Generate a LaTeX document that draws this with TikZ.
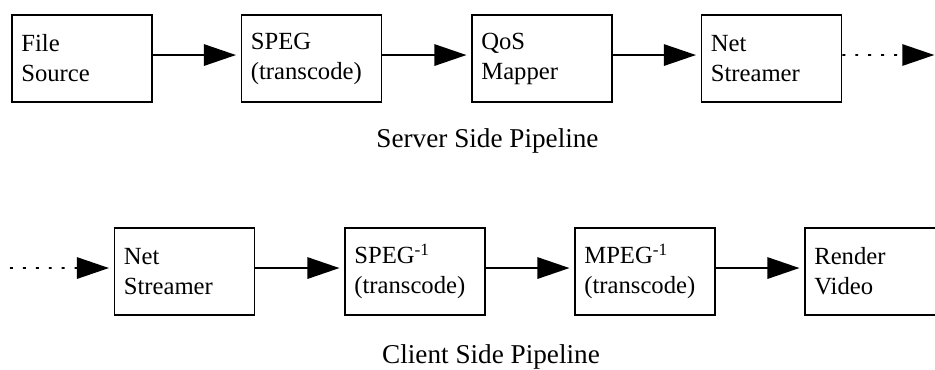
\documentclass[tikz,border=0pt]{standalone}
\usepackage{fontspec}
\setmainfont{Liberation Serif}
\usetikzlibrary{arrows.meta}

\tikzset{
  stage/.style={draw, line width=1.3pt, minimum width=105pt, minimum height=65.25pt,
    text width=91pt, align=left, inner sep=6pt, font=\fontsize{18.5}{22.5}\selectfont},
  flow/.style={line width=1.4pt, -{Triangle[length=24pt,width=16pt]}, shorten >=3.5pt},
  dotflow/.style={flow, dash pattern=on 2.2pt off 7.5pt},
  caption/.style={inner sep=0pt, font=\fontsize{20.4}{24}\selectfont}
}

\begin{document}
\begin{tikzpicture}[x=0.75pt,y=0.75pt,yscale=-1,xscale=1]
\clip (0,0) rectangle (935,369);

% Server side
\node [stage] (srcfile) at (82,58.5) {File\\Source};
\node [stage] (spegenc) at (311.5,58.5) {SPEG\\(transcode)};
\node [stage] (qosmap) at (542,58.5) {QoS\\Mapper};
\node [stage] (srvnet) at (771.5,58.5) {Net\\Streamer};
\coordinate (srvout) at (939,55);

% Client side
\coordinate (cliin) at (10,268);
\node [stage] (clinet) at (184.5,271.5) {Net\\Streamer};
\node [stage] (spegdec) at (415,271.5) {SPEG\textsuperscript{-1}\\(transcode)};
\node [stage] (mpegdec) at (645,271.5) {MPEG\textsuperscript{-1}\\(transcode)};
\node [stage] (render) at (875,271.5) {Render\\Video};

% Connectors
\draw [flow] ([yshift=-2.6pt]srcfile.east) -- ([yshift=-2.6pt]spegenc.west);
\draw [flow] ([yshift=-2.6pt]spegenc.east) -- ([yshift=-2.6pt]qosmap.west);
\draw [flow] ([yshift=-2.6pt]qosmap.east) -- ([yshift=-2.6pt]srvnet.west);
\draw [dotflow] ([yshift=-2.6pt]srvnet.east) -- (srvout);
\draw [dotflow] (cliin) -- ([yshift=-2.6pt]clinet.west);
\draw [flow] ([yshift=-2.6pt]clinet.east) -- ([yshift=-2.6pt]spegdec.west);
\draw [flow] ([yshift=-2.6pt]spegdec.east) -- ([yshift=-2.6pt]mpegdec.west);
\draw [flow] ([yshift=-2.6pt]mpegdec.east) -- ([yshift=-2.6pt]render.west);

% Text Node
\node [caption, anchor=base] (srvcap) at (487.5,147) {Server Side Pipeline};
% Text Node
\node [caption, anchor=base] (clicap) at (491,363) {Client Side Pipeline};

\end{tikzpicture}
\end{document}
